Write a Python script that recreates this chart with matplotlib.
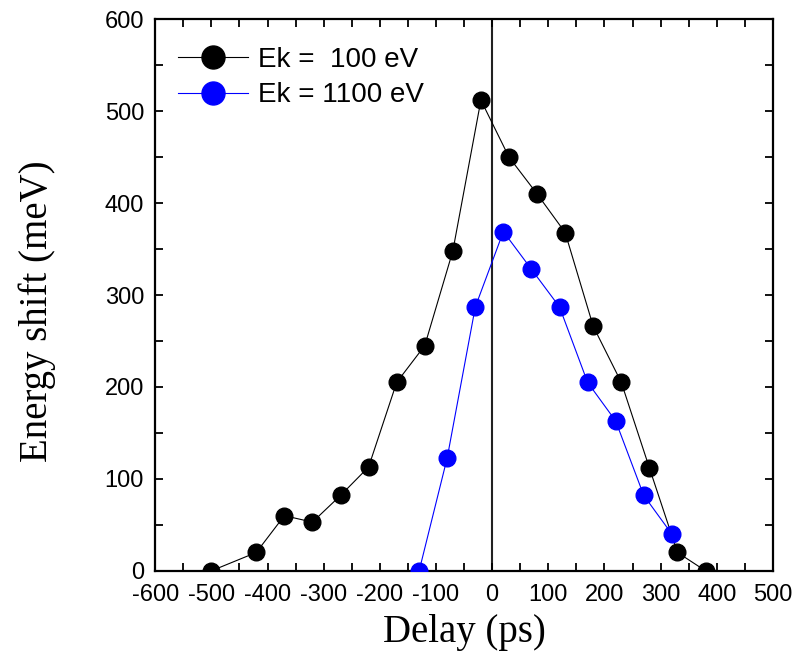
import matplotlib
matplotlib.use('Agg')
import matplotlib.pyplot as plt
from matplotlib.ticker import MultipleLocator

plt.rcParams['axes.unicode_minus'] = False

# Data
delay_100 = [-500, -420, -370, -320, -270, -220, -170, -120, -70, -20,
             30, 80, 130, 180, 230, 280, 330, 380]
shift_100 = [0, 20, 60, 53, 82, 113, 205, 245, 348, 512,
             450, 410, 368, 266, 205, 112, 20, 0]

delay_1100 = [-130, -80, -30, 20, 70, 120, 170, 220, 270, 320]
shift_1100 = [0, 123, 287, 369, 328, 287, 205, 163, 82, 40]

LABEL_100 = 'Ek =  100 eV'
LABEL_1100 = 'Ek = 1100 eV'

# Styling
TICK_FONT = 'Liberation Sans'
LABEL_FONT = 'Liberation Serif'
MARKER_SIZE = 12
LINE_WIDTH = 0.8

fig = plt.figure(figsize=(7.96, 6.63), dpi=100)
ax = fig.add_axes([0.195, 0.139, 0.776, 0.832])

ax.axvline(0, color='#222222', linewidth=1.5, zorder=1)
ax.plot(delay_100, shift_100, '-o', color='black', markerfacecolor='black',
        markeredgecolor='black', markersize=MARKER_SIZE, linewidth=LINE_WIDTH,
        label=LABEL_100, zorder=3)
ax.plot(delay_1100, shift_1100, '-o', color='blue', markerfacecolor='blue',
        markeredgecolor='blue', markersize=MARKER_SIZE, linewidth=LINE_WIDTH,
        label=LABEL_1100, zorder=4)

ax.set_xlim(-600, 500)
ax.set_ylim(0, 600)
ax.xaxis.set_major_locator(MultipleLocator(100))
ax.xaxis.set_minor_locator(MultipleLocator(50))
ax.yaxis.set_major_locator(MultipleLocator(100))
ax.yaxis.set_minor_locator(MultipleLocator(50))

ax.tick_params(which='both', direction='in', top=True, right=True,
               width=1.3, length=6, labelsize=17)
ax.tick_params(axis='x', pad=9.5)
ax.tick_params(axis='y', pad=8)
for lab in ax.get_xticklabels() + ax.get_yticklabels():
    lab.set_fontfamily(TICK_FONT)

for sp in ax.spines.values():
    sp.set_linewidth(1.6)

ax.set_xlabel('Delay (ps)', fontsize=28, fontfamily=LABEL_FONT, labelpad=6)
ax.set_ylabel('Energy shift (meV)', fontsize=28, fontfamily=LABEL_FONT)
ax.yaxis.set_label_coords(-0.16, 0.47)

leg = ax.legend(loc='upper left', frameon=False, markerscale=1.38,
                prop={'family': TICK_FONT, 'size': 20}, handlelength=2.5,
                handletextpad=0.36, labelspacing=0.34, borderpad=0,
                bbox_to_anchor=(0.037, 0.95), borderaxespad=0)

fig.savefig('out.png', dpi=100)
